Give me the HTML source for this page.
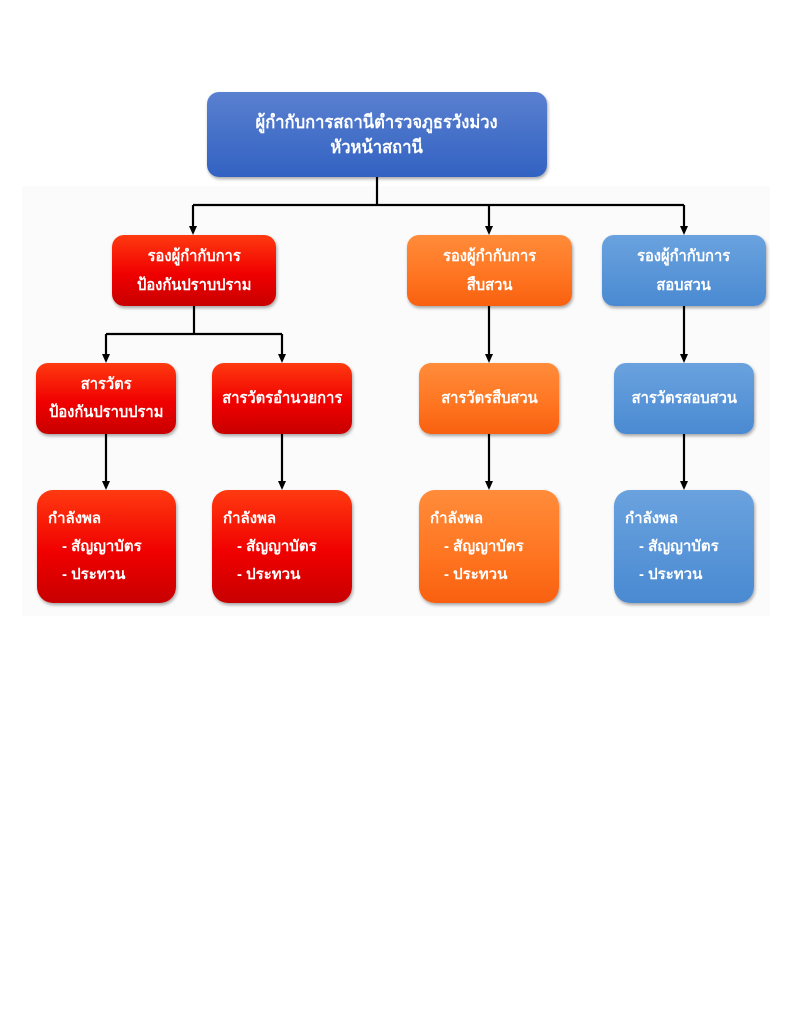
<!DOCTYPE html>
<html><head><meta charset="utf-8">
<style>
html,body{margin:0;padding:0;background:#fff;}
body{width:791px;height:1024px;position:relative;overflow:hidden;font-family:"Liberation Sans","DejaVu Sans",sans-serif;}
.band{position:absolute;left:22px;top:186px;width:748px;height:430px;background:#fbfbfb;}
.b{position:absolute;box-sizing:border-box;border-radius:12px;color:#fff;font-weight:bold;display:flex;flex-direction:column;justify-content:center;align-items:center;text-align:center;box-shadow:1px 2px 3px rgba(0,0,0,0.35);font-size:16px;line-height:29px;}
.b div{transform:scaleX(0.92);}
.top{background:linear-gradient(#5a80d0,#3262c2);font-size:18px;line-height:25px;}
.red{background:linear-gradient(#ff3a10,#f00000 55%,#c80000);}
.org{background:linear-gradient(#ff8c3a,#ff7420 60%,#f86010);}
.blu{background:linear-gradient(#6aa2de,#4a8ad2);}
.l4{align-items:flex-start;text-align:left;padding-left:11px;border-radius:16px;line-height:28px;font-size:15px;}
.l4 span{padding-left:14px;}
svg{position:absolute;left:0;top:0;}
</style></head><body>
<div class="band"></div>
<svg width="791" height="1024">
<g stroke="#000" stroke-width="2.2" fill="none">
<path d="M377,177 V205 M193,205 H684"/>
<path d="M193,205 V228 M489,205 V228 M684,205 V228"/>
<path d="M194,306 V334 M106,334 H282"/>
<path d="M106,334 V356 M282,334 V356 M489,306 V356 M684,306 V356"/>
<path d="M106,434 V483 M282,434 V483 M489,434 V483 M684,434 V483"/>
</g>
<g fill="#000">
<polygon points="189,226 197,226 193,235"/>
<polygon points="485,226 493,226 489,235"/>
<polygon points="680,226 688,226 684,235"/>
<polygon points="102,354 110,354 106,363"/>
<polygon points="278,354 286,354 282,363"/>
<polygon points="485,354 493,354 489,363"/>
<polygon points="680,354 688,354 684,363"/>
<polygon points="102,481 110,481 106,490"/>
<polygon points="278,481 286,481 282,490"/>
<polygon points="485,481 493,481 489,490"/>
<polygon points="680,481 688,481 684,490"/>
</g></svg>
<div class="b top" style="left:207px;top:92px;width:340px;height:85px;"><div>ผู้กำกับการสถานีตำรวจภูธรวังม่วง<br>หัวหน้าสถานี</div></div>
<div class="b red" style="left:112px;top:235px;width:164px;height:71px;"><div>รองผู้กำกับการ<br>ป้องกันปราบปราม</div></div>
<div class="b org" style="left:407px;top:235px;width:165px;height:71px;"><div>รองผู้กำกับการ<br>สืบสวน</div></div>
<div class="b blu" style="left:602px;top:235px;width:164px;height:71px;"><div>รองผู้กำกับการ<br>สอบสวน</div></div>
<div class="b red" style="left:36px;top:363px;width:140px;height:71px;line-height:28px;"><div>สารวัตร<br>ป้องกันปราบปราม</div></div>
<div class="b red" style="left:212px;top:363px;width:140px;height:71px;"><div>สารวัตรอำนวยการ</div></div>
<div class="b org" style="left:419px;top:363px;width:140px;height:71px;"><div>สารวัตรสืบสวน</div></div>
<div class="b blu" style="left:614px;top:363px;width:140px;height:71px;"><div>สารวัตรสอบสวน</div></div>
<div class="b red l4" style="left:37px;top:490px;width:139px;height:113px;">กำลังพล<span>- สัญญาบัตร</span><span>- ประทวน</span></div>
<div class="b red l4" style="left:212px;top:490px;width:140px;height:113px;">กำลังพล<span>- สัญญาบัตร</span><span>- ประทวน</span></div>
<div class="b org l4" style="left:419px;top:490px;width:140px;height:113px;">กำลังพล<span>- สัญญาบัตร</span><span>- ประทวน</span></div>
<div class="b blu l4" style="left:614px;top:490px;width:140px;height:113px;">กำลังพล<span>- สัญญาบัตร</span><span>- ประทวน</span></div>
</body></html>
